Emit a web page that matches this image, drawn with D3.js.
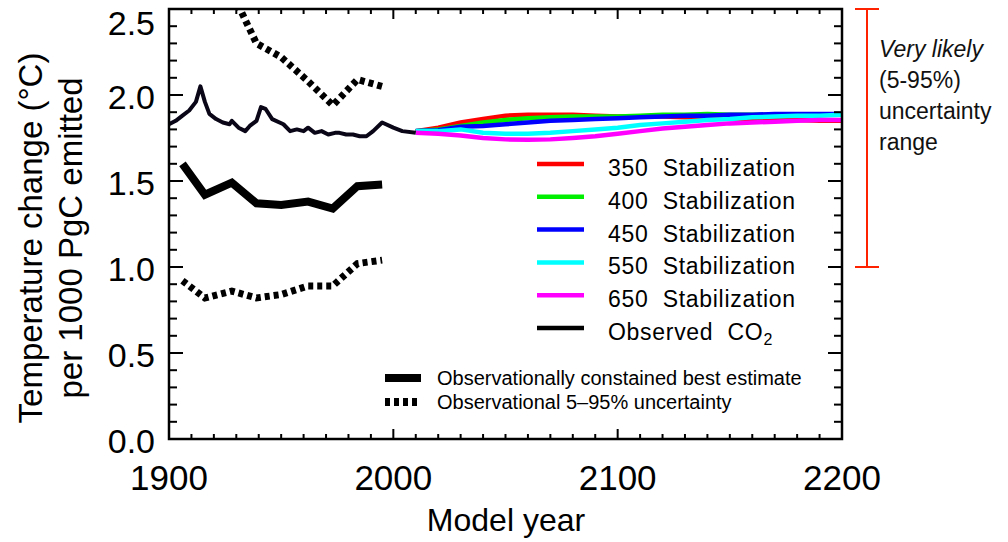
<!DOCTYPE html>
<html>
<head>
<meta charset="utf-8">
<script src="https://cdn.jsdelivr.net/npm/d3@7"></script>
<style>
  body { margin: 0; background: #fff; }
  svg { display: block; }
</style>
</head>
<body>
<svg id="chart" width="1008" height="542"></svg>
<script>
// observed CO2 run, 1900-2010
const obsYears  = [1900, 1903, 1906, 1909, 1912, 1914, 1916, 1918, 1921, 1924, 1927, 1928, 1931, 1934, 1936, 1939, 1941, 1943, 1946, 1951, 1954, 1957, 1960, 1962, 1965, 1968, 1971, 1974, 1976, 1979, 1982, 1985, 1988, 1991, 1995, 2000, 2004, 2010];
const obsValues = [1.83, 1.85, 1.88, 1.91, 1.96, 2.05, 1.96, 1.89, 1.86, 1.84, 1.83, 1.85, 1.81, 1.79, 1.82, 1.85, 1.93, 1.92, 1.86, 1.83, 1.79, 1.80, 1.79, 1.81, 1.78, 1.79, 1.77, 1.78, 1.78, 1.77, 1.77, 1.76, 1.76, 1.79, 1.84, 1.81, 1.79, 1.78];

// observationally constrained estimate and its 5-95% range
const estYears = [1906, 1916, 1928, 1939, 1950, 1962, 1973, 1984, 1995];
const estBest  = [1.60, 1.42, 1.49, 1.37, 1.36, 1.38, 1.34, 1.47, 1.48];
const estLow   = [0.92, 0.82, 0.86, 0.82, 0.84, 0.89, 0.89, 1.02, 1.04];
const estHigh  = [3.00, 2.80, 2.60, 2.30, 2.22, 2.08, 1.94, 2.09, 2.05];

// stabilization runs, 2010-2200
const stabYears = [2010, 2020, 2030, 2040, 2050, 2060, 2070, 2080, 2090, 2100, 2110, 2120, 2130, 2140, 2150, 2160, 2170, 2180, 2190, 2200];
const stab350 = [1.79, 1.81, 1.84, 1.86, 1.88, 1.885, 1.885, 1.885, 1.88, 1.875, 1.875, 1.875, 1.87, 1.87, 1.865, 1.86, 1.86, 1.855, 1.85, 1.85];
const stab400 = [1.79, 1.80, 1.82, 1.84, 1.855, 1.865, 1.87, 1.875, 1.875, 1.875, 1.88, 1.885, 1.885, 1.89, 1.885, 1.885, 1.885, 1.885, 1.885, 1.885];
const stab450 = [1.79, 1.795, 1.815, 1.82, 1.83, 1.84, 1.85, 1.855, 1.86, 1.865, 1.87, 1.875, 1.88, 1.88, 1.885, 1.885, 1.89, 1.89, 1.89, 1.89];
const stab550 = [1.79, 1.79, 1.80, 1.78, 1.775, 1.775, 1.78, 1.79, 1.80, 1.81, 1.825, 1.835, 1.845, 1.855, 1.86, 1.87, 1.875, 1.88, 1.88, 1.885];
const stab650 = [1.78, 1.775, 1.765, 1.75, 1.742, 1.74, 1.742, 1.75, 1.76, 1.775, 1.79, 1.805, 1.815, 1.825, 1.835, 1.84, 1.845, 1.85, 1.855, 1.855];

const stabNames  = ["350 Stabilization", "400 Stabilization", "450 Stabilization", "550 Stabilization", "650 Stabilization"];
const stabColors = ["#ff0000", "#00ee00", "#0000ff", "#00ffff", "#ff00ff"];
const stabSeries = [stab350, stab400, stab450, stab550, stab650];

const xTicks = [1900, 2000, 2100, 2200];
const yTicks = [0.0, 0.5, 1.0, 1.5, 2.0, 2.5];
const rangeLow = 1.0, rangeHigh = 2.5;

const svg = d3.select("#chart");
const pLeft = 169, pRight = 842, pTop = 9, pBottom = 439;

const x = d3.scaleLinear().domain([1900, 2200]).range([pLeft, pRight]);
const y = d3.scaleLinear().domain([0, 2.5]).range([pBottom, pTop]);

svg.append("defs").append("clipPath").attr("id", "plotclip")
  .append("rect").attr("x", pLeft).attr("y", pTop).attr("width", pRight - pLeft).attr("height", pBottom - pTop);

const plot = svg.append("g").attr("clip-path", "url(#plotclip)");
const line = d3.line().x(d => x(d[0])).y(d => y(d[1]));

// uncertainty band (dotted)
[estLow, estHigh].forEach(vals => {
  plot.append("path")
    .attr("d", line(estYears.map((yr, i) => [yr, vals[i]])))
    .attr("fill", "none").attr("stroke", "#000").attr("stroke-width", 7)
    .attr("stroke-dasharray", "5,4");
});

// best estimate
plot.append("path")
  .attr("d", line(estYears.map((yr, i) => [yr, estBest[i]])))
  .attr("fill", "none").attr("stroke", "#000").attr("stroke-width", 8);

// stabilization runs
stabSeries.forEach((vals, k) => {
  plot.append("path")
    .attr("d", line(stabYears.map((yr, i) => [yr, vals[i]])))
    .attr("fill", "none").attr("stroke", stabColors[k]).attr("stroke-width", 4.5);
});

// observed
plot.append("path")
  .attr("d", line(obsYears.map((yr, i) => [yr, obsValues[i]])))
  .attr("fill", "none").attr("stroke", "#0a0618").attr("stroke-width", 4)
  .attr("stroke-linejoin", "round");

// frame and ticks
const axes = svg.append("g").attr("stroke", "#000");
axes.append("rect").attr("x", pLeft).attr("y", pTop).attr("width", pRight - pLeft).attr("height", pBottom - pTop)
  .attr("fill", "none").attr("stroke-width", 2.5);

d3.range(1900, 2201, 10).forEach(yr => {
  const len = yr % 100 === 0 ? 10 : 5;
  axes.append("line").attr("x1", x(yr)).attr("x2", x(yr)).attr("y1", pBottom).attr("y2", pBottom - len).attr("stroke-width", 2);
  axes.append("line").attr("x1", x(yr)).attr("x2", x(yr)).attr("y1", pTop).attr("y2", pTop + len).attr("stroke-width", 2);
});
d3.range(0, 26).forEach(i => {
  const v = i / 10;
  const len = i % 5 === 0 ? 14 : 8;
  axes.append("line").attr("x1", pLeft).attr("x2", pLeft + len).attr("y1", y(v)).attr("y2", y(v)).attr("stroke-width", 2);
  axes.append("line").attr("x1", pRight).attr("x2", pRight - len).attr("y1", y(v)).attr("y2", y(v)).attr("stroke-width", 2);
});

const tickFont = "Liberation Sans, Arial, sans-serif";
svg.append("g").selectAll("text").data(yTicks).join("text")
  .attr("x", 155).attr("y", d => Math.max(y(d), 21) + 2)
  .attr("text-anchor", "end").attr("dominant-baseline", "central")
  .attr("font-family", tickFont).attr("font-size", 34).attr("fill", "#000")
  .text(d => d.toFixed(1));

svg.append("g").selectAll("text").data(xTicks).join("text")
  .attr("x", d => x(d)).attr("y", 490)
  .attr("text-anchor", "middle")
  .attr("font-family", tickFont).attr("font-size", 35).attr("fill", "#000")
  .text(d => d);

// axis titles
svg.append("text").attr("x", 506).attr("y", 531).attr("text-anchor", "middle")
  .attr("font-family", tickFont).attr("font-size", 32).text("Model year");
const yt = svg.append("text").attr("transform", "translate(0,238) rotate(-90)")
  .attr("text-anchor", "middle").attr("font-family", tickFont).attr("font-size", 33);
yt.append("tspan").attr("x", 0).attr("y", 42).text("Temperature change (°C)");
yt.append("tspan").attr("x", 0).attr("y", 82).text("per 1000 PgC emitted");

// legend for model runs
const legNames = stabNames.concat(["Observed CO"]);
const legColors = stabColors.concat(["#000"]);
const leg = svg.append("g");
legNames.forEach((name, i) => {
  const ly = 164 + i * 32.8;
  leg.append("line").attr("x1", 537).attr("x2", 584).attr("y1", ly).attr("y2", ly)
    .attr("stroke", legColors[i]).attr("stroke-width", 4.5);
  const t = leg.append("text").attr("x", 608).attr("y", ly + 12)
    .attr("font-family", tickFont).attr("font-size", 23)
    .style("white-space", "pre").attr("letter-spacing", 0.7)
    .text(name.replace(" ", "  "));
  if (i === legNames.length - 1) {
    t.append("tspan").attr("font-size", 16).attr("dy", 5).text("2");
  }
});

// legend for observational estimate
const leg2 = svg.append("g");
leg2.append("line").attr("x1", 385).attr("x2", 421).attr("y1", 378).attr("y2", 378)
  .attr("stroke", "#000").attr("stroke-width", 8);
leg2.append("line").attr("x1", 385).attr("x2", 421).attr("y1", 402).attr("y2", 402)
  .attr("stroke", "#000").attr("stroke-width", 8).attr("stroke-dasharray", "5,4");
leg2.append("text").attr("x", 437).attr("y", 385).attr("font-family", tickFont).attr("font-size", 20)
  .text("Observationally constained best estimate");
leg2.append("text").attr("x", 437).attr("y", 409).attr("font-family", tickFont).attr("font-size", 20)
  .text("Observational 5\u201395% uncertainty");

// very likely range marker
const rx = 867;
const rg = svg.append("g").attr("stroke", "#ff2200").attr("stroke-width", 2);
rg.append("line").attr("x1", rx).attr("x2", rx).attr("y1", y(rangeHigh)).attr("y2", y(rangeLow));
rg.append("line").attr("x1", rx - 12).attr("x2", rx + 12).attr("y1", y(rangeHigh)).attr("y2", y(rangeHigh));
rg.append("line").attr("x1", rx - 12).attr("x2", rx + 12).attr("y1", y(rangeLow)).attr("y2", y(rangeLow));

const note = svg.append("text").attr("font-family", tickFont).attr("font-size", 23).attr("fill", "#111");
note.append("tspan").attr("x", 879).attr("y", 57).attr("font-style", "italic").text("Very likely");
note.append("tspan").attr("x", 879).attr("y", 88).text("(5-95%)");
note.append("tspan").attr("x", 879).attr("y", 119).text("uncertainty");
note.append("tspan").attr("x", 879).attr("y", 150).text("range");
</script>
</body>
</html>
